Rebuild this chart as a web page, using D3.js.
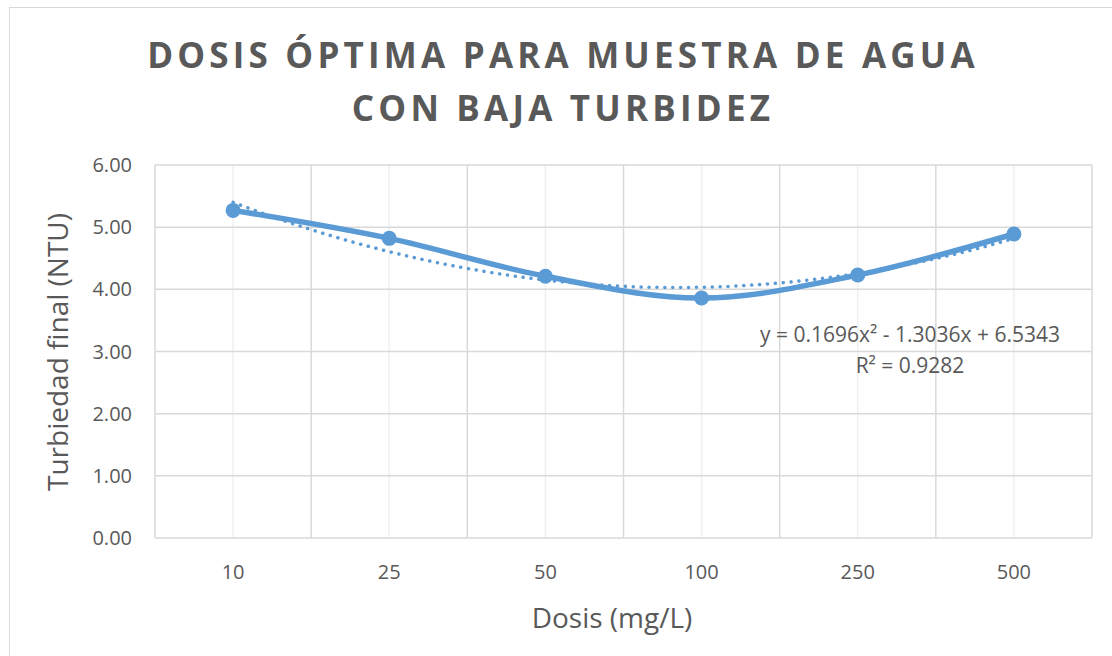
<!DOCTYPE html>
<html>
<head>
<meta charset="utf-8">
<script src="https://cdn.jsdelivr.net/npm/d3@7"></script>
<style>
  body { margin: 0; background: #fff; }
  text { font-family: "Open Sans", sans-serif; fill: #595959; }
</style>
</head>
<body>
<div id="root"></div>
<script>
var categories = ['10', '25', '50', '100', '250', '500'];
var turbidity = [5.27, 4.82, 4.21, 3.86, 4.23, 4.89];
var yTicks = [0, 1, 2, 3, 4, 5, 6];
// trendline coefficients: c0 + c1*x + c2*x^2
var trendCoef = [6.5343, -1.3036, 0.1696];
var titleLines = ['DOSIS ÓPTIMA PARA MUESTRA DE AGUA', 'CON BAJA TURBIDEZ'];
var eqLines = ['y = 0.1696x² - 1.3036x + 6.5343', 'R² = 0.9282'];

var w = 1112, h = 656;
var plotLeft = 155, plotRight = 1092, plotTop = 165, plotBottom = 538;
var blue = '#5b9bd5';

var svg = d3.select('#root').append('svg')
  .attr('width', w)
  .attr('height', h);

// chart border
svg.append('rect')
  .attr('x', 9.5).attr('y', 7.5)
  .attr('width', 1120).attr('height', 700)
  .attr('fill', 'none')
  .attr('stroke', '#d9d9d9');

var x = d3.scaleBand().domain(categories).range([plotLeft, plotRight]).padding(0);
var y = d3.scaleLinear().domain([0, 6]).range([plotBottom, plotTop]);
var cx = function(c) { return x(c) + x.bandwidth() / 2; };
// numeric x for the trendline (1..6 centered on categories)
var xn = d3.scaleLinear().domain([1, categories.length])
  .range([cx(categories[0]), cx(categories[categories.length - 1])]);

// minor vertical gridlines at category centers
svg.append('g')
  .selectAll('line')
  .data(categories)
  .enter()
  .append('line')
  .attr('x1', cx)
  .attr('x2', cx)
  .attr('y1', plotTop).attr('y2', plotBottom)
  .attr('stroke', '#f0f0f0')
  .attr('stroke-width', 1.5);

// major vertical gridlines at category boundaries
var bounds = categories.map(function(d) { return x(d); }).concat([plotRight]);
svg.append('g')
  .selectAll('line')
  .data(bounds)
  .enter()
  .append('line')
  .attr('x1', function(d) { return d; })
  .attr('x2', function(d) { return d; })
  .attr('y1', plotTop).attr('y2', plotBottom)
  .attr('stroke', '#d9d9d9')
  .attr('stroke-width', 1.5);

// horizontal gridlines
svg.append('g')
  .selectAll('line')
  .data(yTicks)
  .enter()
  .append('line')
  .attr('x1', plotLeft).attr('x2', plotRight)
  .attr('y1', function(d) { return y(d); })
  .attr('y2', function(d) { return y(d); })
  .attr('stroke', '#d9d9d9')
  .attr('stroke-width', 1.5);

// y tick labels
svg.append('g')
  .selectAll('text')
  .data(yTicks)
  .enter()
  .append('text')
  .attr('x', 132)
  .attr('y', function(d) { return y(d) + 7; })
  .attr('text-anchor', 'end')
  .attr('font-size', 20)
  .text(function(d) { return d3.format('.2f')(d); });

// x tick labels
svg.append('g')
  .selectAll('text')
  .data(categories)
  .enter()
  .append('text')
  .attr('x', cx)
  .attr('y', 579)
  .attr('text-anchor', 'middle')
  .attr('font-size', 20)
  .text(function(d) { return d; });

// trendline (dotted)
var trendPts = d3.range(1, 6.001, 0.05).map(function(t) {
  return [t, trendCoef[0] + trendCoef[1] * t + trendCoef[2] * t * t];
});
svg.append('path')
  .datum(trendPts)
  .attr('d', d3.line()
    .x(function(d) { return xn(d[0]); })
    .y(function(d) { return y(d[1]); }))
  .attr('fill', 'none')
  .attr('stroke', blue)
  .attr('stroke-width', 3.5)
  .attr('stroke-linecap', 'round')
  .attr('stroke-dasharray', '0.1 7.8');

// main smoothed line
svg.append('path')
  .datum(turbidity)
  .attr('d', d3.line()
    .x(function(d, i) { return cx(categories[i]); })
    .y(function(d) { return y(d); })
    .curve(d3.curveCatmullRom.alpha(0.5)))
  .attr('fill', 'none')
  .attr('stroke', blue)
  .attr('stroke-width', 5.5)
  .attr('stroke-linecap', 'round');

// markers
svg.append('g')
  .selectAll('circle')
  .data(turbidity)
  .enter()
  .append('circle')
  .attr('cx', function(d, i) { return cx(categories[i]); })
  .attr('cy', function(d) { return y(d); })
  .attr('r', 7.5)
  .attr('fill', blue);

// trendline equation
svg.append('g')
  .selectAll('text')
  .data(eqLines)
  .enter()
  .append('text')
  .attr('x', 910)
  .attr('y', function(d, i) { return 342 + i * 31; })
  .attr('text-anchor', 'middle')
  .attr('font-size', 21)
  .text(function(d) { return d; });

// title
svg.append('g')
  .selectAll('text')
  .data(titleLines)
  .enter()
  .append('text')
  .attr('x', 563)
  .attr('y', function(d, i) { return 68 + i * 53; })
  .attr('text-anchor', 'middle')
  .attr('font-size', 35)
  .attr('font-weight', 'bold')
  .attr('letter-spacing', 4.2)
  .text(function(d) { return d; });

// axis titles
svg.append('text')
  .attr('x', 612)
  .attr('y', 628)
  .attr('text-anchor', 'middle')
  .attr('font-size', 28)
  .text('Dosis (mg/L)');

svg.append('text')
  .attr('transform', 'translate(68,352) rotate(-90)')
  .attr('text-anchor', 'middle')
  .attr('font-size', 28)
  .text('Turbiedad final (NTU)');
</script>
</body>
</html>
